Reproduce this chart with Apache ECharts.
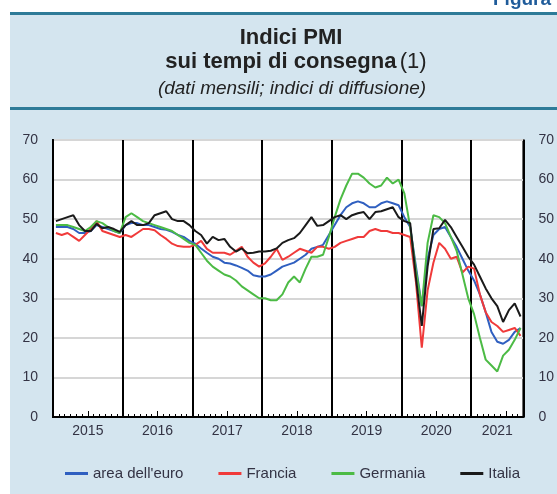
<!DOCTYPE html>
<html>
<head>
<meta charset="utf-8">
<script src="https://cdn.jsdelivr.net/npm/echarts@6/dist/echarts.min.js"></script>
<style>
html, body { margin: 0; padding: 0; background: #fff; }
#chart { width: 557px; height: 494px; }
</style>
</head>
<body>
<div id="chart"></div>
<script>
// anni (etichette asse x), dati mensili gen 2015 - set 2021
var years = ['2015', '2016', '2017', '2018', '2019', '2020', '2021']
var seriesNames = ["area dell'euro", 'Francia', 'Germania', 'Italia']

var areaEuro = [
  48, 48, 48, 47.5, 46.5, 46.5, 47, 48.5, 48, 47.5, 47, 46.5,
  48.5, 49, 49, 48.5, 48.5, 48, 47.5, 47.3, 46.8, 46, 45.5, 44.5,
  43.8, 42.6, 41.5, 40.5, 40, 39, 38.8, 38.3, 37.7, 37, 35.8, 35.5,
  35.5, 36, 37, 38, 38.5, 39, 40, 41, 42.5, 43, 43.5, 46,
  48.5, 51, 53, 54, 54.5, 54, 53, 53, 54, 54.5, 54, 53.5,
  50.5, 48, 38, 28, 40, 46, 47.5, 48, 45.5, 43, 40, 37,
  34.5, 31, 26.5, 21.5, 19, 18.5, 19.5, 21.5, 22.5
]
var francia = [
  46.5, 46, 46.5, 45.5, 44.5, 46, 47.5, 49.5, 47, 46.5, 46, 45.5,
  46, 45.5, 46.5, 47.5, 47.5, 47.2, 46, 45, 43.8, 43.2, 43, 43,
  43.5, 44.5, 42.5, 41.5, 41.5, 41.5, 41, 42, 43, 40.5, 39, 38,
  38.8, 40.5, 42.5, 39.7, 40.5, 41.5, 42.5, 42, 41.5, 43, 43, 42.5,
  43, 44, 44.5, 45, 45.5, 45.5, 47, 47.5, 47, 47, 46.5, 46.5,
  46, 45.5, 34, 17.5, 32, 39, 44, 42.5, 40, 40.5, 36.5, 38,
  37.5, 31, 26.5, 24, 23, 21.5, 22, 22.5, 20.5
]
var germania = [
  48.5, 48.5, 48.5, 48, 47.5, 47, 48, 49.5, 49, 48, 47, 46.5,
  50.5, 51.5, 50.5, 49.5, 49, 48.5, 48, 47.5, 47, 46, 45, 44,
  43.5, 41.5, 39.5, 38, 37, 36, 35.5, 34.5, 33, 32, 31, 30,
  30, 29.5, 29.5, 31, 34, 35.5, 34, 37.5, 40.5, 40.5, 41, 45.5,
  50.5, 55, 58.5, 61.5, 61.5, 60.5, 59, 58, 58.5, 60.5, 59, 60,
  56.5, 48, 37, 28, 44, 51, 50.5, 49, 45.5, 42, 36, 30,
  26, 20, 14.5, 13, 11.5, 15.5, 17, 19.5, 22.5
]
var italia = [
  49.5, 50, 50.5, 51, 48.5, 47, 47, 48.8, 47.7, 48, 47.5, 46.8,
  48.5, 49.5, 48.5, 48.5, 49, 51, 51.5, 52, 50, 49.5, 49.5, 48.5,
  47, 46, 43.8, 45.5, 44.7, 45, 43, 41.8, 42.6, 41.4, 41.5, 41.8,
  41.8, 42, 42.6, 44, 44.7, 45.2, 46.5, 48.5, 50.5, 48.3, 48.5, 49.5,
  50.5, 51, 50, 51, 51.5, 51.8, 50, 51.8, 52, 52.5, 53, 50.5,
  49.5, 49, 35, 23, 38, 47.5, 47.7, 49.8, 48, 45.5, 43, 40.5,
  38.5, 35.5, 32.5, 30, 28, 24, 27, 28.7, 25.4
]

var fontFamily = "'Liberation Sans', Arial, sans-serif"
var textColor = '#333344'
var nMonths = areaEuro.length

// punto a metà mese
function toPoints(values) {
  return values.map(function (v, i) {
    return [i + 0.5, v]
  })
}

var monthTicks = []
for (var i = 1; i < nMonths; i++) {
  if (i % 12 !== 0) monthTicks.push(i)
}
var midYearTicks = monthTicks.filter(function (m) { return m % 12 === 6 })
var labelPos = years.map(function (y, k) {
  var start = k * 12
  var end = Math.min(start + 12, nMonths)
  return (start + end) / 2
})

var chart = echarts.init(document.getElementById('chart'))

function baseX() {
  return {
    type: 'value',
    min: 0,
    max: nMonths,
    position: 'bottom',
    axisLine: { show: false },
    axisTick: { show: false },
    axisLabel: { show: false },
    splitLine: { show: false },
  }
}

var xLabels = baseX()
xLabels.axisLine = { show: true, lineStyle: { color: '#000', width: 2 } }
xLabels.axisLabel = {
  show: true,
  customValues: labelPos,
  formatter: function (v) {
    return years[Math.floor(v / 12)]
  },
  color: textColor,
  fontFamily: fontFamily,
  fontSize: 14,
  margin: 7,
}

var xMonths = baseX()
xMonths.axisTick = {
  show: true,
  customValues: monthTicks,
  inside: true,
  length: 3,
  lineStyle: { color: '#000', width: 1 },
}

var xMid = baseX()
xMid.axisTick = {
  show: true,
  customValues: midYearTicks,
  inside: true,
  length: 6,
  lineStyle: { color: '#000', width: 1 },
}

var xYears = baseX()
xYears.interval = 12
xYears.splitLine = { show: true, lineStyle: { color: '#000', width: 2 } }

function yAxisOf(pos, showSplit) {
  return {
    type: 'value',
    position: pos,
    min: 0,
    max: 70,
    interval: 10,
    axisLine: { show: true, lineStyle: { color: '#000', width: 2 } },
    axisTick: { show: false },
    axisLabel: {
      color: textColor,
      fontFamily: fontFamily,
      fontSize: 14,
      margin: 15,
    },
    splitLine: {
      show: showSplit,
      lineStyle: { color: '#d6d6d6', width: 2 },
    },
  }
}

var colors = ['#2f5fc0', '#f03a3a', '#4cbb45', '#1a1a1a']
var values = [areaEuro, francia, germania, italia]

chart.setOption({
  backgroundColor: '#d4e5ef',
  animation: false,
  color: colors,
  graphic: [
    { type: 'rect', shape: { x: 0, y: 0, width: 10, height: 494 }, style: { fill: '#fff' } },
    { type: 'rect', shape: { x: 0, y: 0, width: 557, height: 12 }, style: { fill: '#fff' } },
    { type: 'rect', shape: { x: 10, y: 12, width: 547, height: 3 }, style: { fill: '#2e7b98' } },
    { type: 'rect', shape: { x: 10, y: 107, width: 547, height: 3 }, style: { fill: '#2e7b98' } },
    {
      type: 'text',
      x: 493,
      y: 9,
      style: {
        text: 'Figura',
        font: 'bold 19px ' + fontFamily,
        fill: '#1f5b9a',
        textVerticalAlign: 'bottom',
      },
    },
    {
      type: 'text',
      x: 291,
      y: 38,
      style: {
        text: 'Indici PMI',
        font: 'bold 22px ' + fontFamily,
        fill: '#222',
        textAlign: 'center',
        textVerticalAlign: 'middle',
      },
    },
    {
      type: 'text',
      x: 296,
      y: 62,
      style: {
        text: '{b|sui tempi di consegna} {n|(1)}',
        rich: {
          b: { font: 'bold 22px ' + fontFamily, fill: '#222' },
          n: { font: '22px ' + fontFamily, fill: '#222' },
        },
        textAlign: 'center',
        textVerticalAlign: 'middle',
      },
    },
    {
      type: 'text',
      x: 292,
      y: 89,
      style: {
        text: '(dati mensili; indici di diffusione)',
        font: 'italic 19px ' + fontFamily,
        fill: '#222',
        textAlign: 'center',
        textVerticalAlign: 'middle',
      },
    },
  ],
  legend: {
    left: 60,
    top: 461,
    itemWidth: 23,
    itemHeight: 3,
    itemGap: 35,
    icon: 'rect',
    textStyle: { color: textColor, fontFamily: fontFamily, fontSize: 15 },
    data: seriesNames,
  },
  grid: {
    left: 53,
    right: 30,
    top: 140,
    bottom: 77,
    show: true,
    backgroundColor: '#fff',
    borderColor: '#000',
    borderWidth: 2,
  },
  xAxis: [xLabels, xMonths, xMid, xYears],
  yAxis: [yAxisOf('left', true), yAxisOf('right', false)],
  series: seriesNames.map(function (name, k) {
    return {
      name: name,
      type: 'line',
      xAxisIndex: 0,
      yAxisIndex: 0,
      showSymbol: false,
      data: toPoints(values[k]),
      lineStyle: { width: 2, color: colors[k] },
      itemStyle: { color: colors[k] },
    }
  }),
})
</script>
</body>
</html>
